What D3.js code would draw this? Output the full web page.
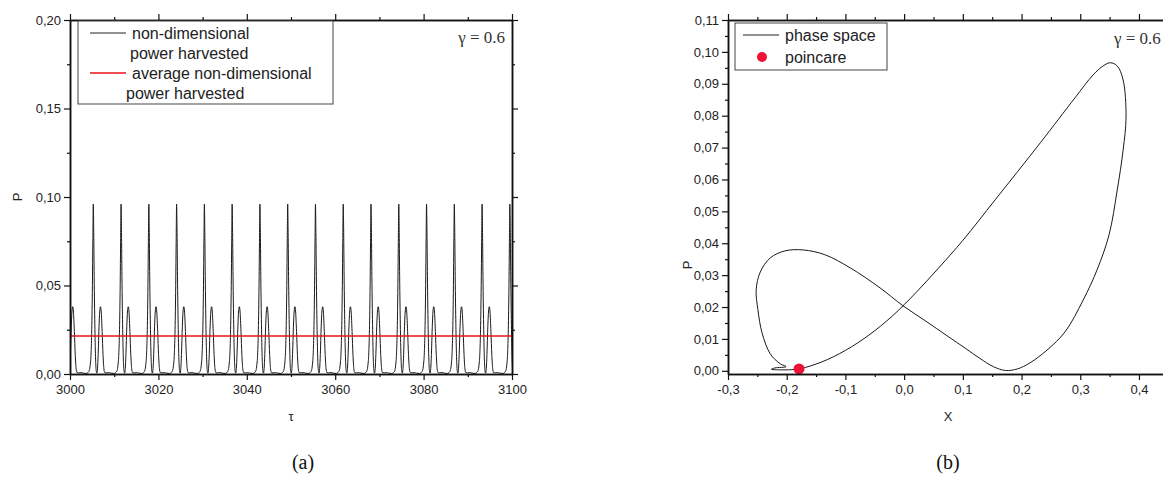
<!DOCTYPE html>
<html>
<head>
<meta charset="utf-8">
<script src="https://cdn.jsdelivr.net/npm/d3@7"></script>
<style>
  body { margin: 0; background: #fff; }
  svg { display: block; font-family: "Liberation Sans", Arial, sans-serif; }
</style>
</head>
<body>
<svg id="chart" width="1163" height="483"></svg>
<script>
// ---- panel (a): P vs tau, one period (offset from tall peak)
const cycleOffset = [-1.6, -1.2, -0.9, -0.7, -0.5, -0.35, -0.2, -0.1, 0, 0.1, 0.2, 0.35, 0.5, 0.65, 0.8,
  0.95, 1.1, 1.3, 1.45, 1.63, 1.8, 2.0, 2.2, 2.4, 2.6, 3.0, 3.5, 4.0];
const cycleP = [0.0003, 0.0008, 0.002, 0.005, 0.012, 0.025, 0.05, 0.075, 0.096, 0.08, 0.055, 0.028, 0.01, 0.002, 0.0005,
  0.003, 0.011, 0.027, 0.035, 0.038, 0.035, 0.024, 0.011, 0.003, 0.0008, 0.0006, 0.0008, 0.0005];
const period = 6.283;
const firstPeakTau = 3005.27;
const avgP = 0.0215;
const tauTicks = [3000, 3020, 3040, 3060, 3080, 3100];
const pTicksA = [0, 0.05, 0.1, 0.15, 0.2];

// ---- panel (b): phase space orbit (x, P), in order along the loop
const orbitX = [-0.179, -0.14, -0.10, -0.06, -0.02, 0.02, 0.06, 0.10, 0.155, 0.232, 0.291, 0.322, 0.339, 0.351, 0.363,
  0.373, 0.378, 0.373, 0.363, 0.349, 0.3285, 0.305, 0.274, 0.2434, 0.2144, 0.193, 0.173, 0.152, 0.129, 0.104, 0.073,
  0.036, -0.002, -0.041, -0.092, -0.135, -0.172, -0.203, -0.228, -0.245, -0.252, -0.249, -0.242, -0.228, -0.211,
  -0.201, -0.22, -0.226, -0.203];
const orbitP = [0.0006, 0.0028, 0.0064, 0.0112, 0.0172, 0.0245, 0.0325, 0.0409, 0.0536, 0.0715, 0.0856, 0.0928, 0.0956, 0.0966, 0.0956,
  0.0912, 0.0796, 0.0692, 0.0567, 0.0426, 0.0316, 0.0222, 0.0122, 0.0065, 0.0025, 0.0006, 0.0001, 0.0013, 0.0039, 0.0071, 0.011,
  0.0157, 0.0204, 0.026, 0.0323, 0.0364, 0.0379, 0.0376, 0.0354, 0.031, 0.0254, 0.0191, 0.0119, 0.0053, 0.0022,
  0.0013, 0.0009, 0.0005, 0.0003];
const poincare = [-0.179, 0.0006];
const xTicksB = [-0.3, -0.2, -0.1, 0, 0.1, 0.2, 0.3, 0.4];
const pTicksB = [0, 0.01, 0.02, 0.03, 0.04, 0.05, 0.06, 0.07, 0.08, 0.09, 0.10, 0.11];

const svg = d3.select('#chart');
const loc = d3.formatLocale({ decimal: ',', thousands: '.', grouping: [3], currency: ['', ''], minus: '-' });
const f2 = loc.format('.2f');
const f1 = loc.format('.1f');

function styleAxis(g) {
  g.selectAll('path.domain').attr('stroke', '#111').attr('stroke-width', 1.5);
  g.selectAll('.tick line').attr('stroke', '#111').attr('stroke-width', 1.2);
  g.selectAll('.tick text').attr('fill', '#222').style('font-size', '13px')
    .style('font-family', '"Liberation Sans", Arial, sans-serif');
}

function frame(x, y, xt, yt, xMinor, yMinor, opts) {
  const [x0, x1] = x.range();
  const [y0, y1] = y.range();
  const g = svg.append('g');
  g.append('g').attr('transform', `translate(0,${y0})`)
    .call(d3.axisBottom(x).tickValues(xMinor).tickSize(3).tickFormat('').tickSizeOuter(0)).call(styleAxis);
  g.append('g').attr('transform', `translate(0,${y0})`)
    .call(d3.axisBottom(x).tickValues(xt).tickSize(6).tickPadding(5).tickFormat(opts.xf).tickSizeOuter(0)).call(styleAxis);
  g.append('g').attr('transform', `translate(0,${y1})`)
    .call(d3.axisTop(x).tickValues(xMinor).tickSize(3).tickFormat('').tickSizeOuter(0)).call(styleAxis);
  g.append('g').attr('transform', `translate(0,${y1})`)
    .call(d3.axisTop(x).tickValues(xt).tickSize(6).tickFormat('').tickSizeOuter(0)).call(styleAxis);
  g.append('g').attr('transform', `translate(${x0},0)`)
    .call(d3.axisLeft(y).tickValues(yMinor).tickSize(3).tickFormat('').tickSizeOuter(0)).call(styleAxis);
  g.append('g').attr('transform', `translate(${x0},0)`)
    .call(d3.axisLeft(y).tickValues(yt).tickSize(6).tickPadding(3).tickFormat(f2).tickSizeOuter(0)).call(styleAxis);
  if (opts.right) {
    g.append('g').attr('transform', `translate(${x1},0)`)
      .call(d3.axisRight(y).tickValues(yMinor).tickSize(3).tickFormat('').tickSizeOuter(0)).call(styleAxis);
    g.append('g').attr('transform', `translate(${x1},0)`)
      .call(d3.axisRight(y).tickValues(yt).tickSize(6).tickFormat('').tickSizeOuter(0)).call(styleAxis);
  }
}

// ================= panel (a)
const xA = d3.scaleLinear().domain([3000, 3100]).range([70, 512]);
const yA = d3.scaleLinear().domain([0, 0.2]).range([374, 20]);

const series = [];
for (let k = -1; k <= 16; k++) {
  cycleOffset.forEach((s, i) => {
    const t = firstPeakTau + k * period + s;
    if (t >= 2998 && t <= 3102) series.push([t, cycleP[i]]);
  });
}

svg.append('clipPath').attr('id', 'clipA').append('rect')
  .attr('x', 70).attr('y', 20).attr('width', 442).attr('height', 354);

svg.append('path').datum(series)
  .attr('clip-path', 'url(#clipA)')
  .attr('fill', 'none').attr('stroke', '#1a1a1a').attr('stroke-width', 1)
  .attr('d', d3.line().x(d => xA(d[0])).y(d => yA(d[1])).curve(d3.curveMonotoneX));

svg.append('line')
  .attr('x1', xA(3000)).attr('x2', xA(3100)).attr('y1', yA(avgP)).attr('y2', yA(avgP))
  .attr('stroke', '#e8141c').attr('stroke-width', 1.5);

frame(xA, yA, tauTicks, pTicksA, d3.range(3010, 3100, 20), [0.025, 0.075, 0.125, 0.175], { xf: d3.format('d'), right: true });

// legend (a)
const legA = svg.append('g');
legA.append('rect').attr('x', 78).attr('y', 21).attr('width', 255).attr('height', 83)
  .attr('fill', '#fff').attr('stroke', '#444').attr('stroke-width', 1);
legA.append('line').attr('x1', 90).attr('x2', 126).attr('y1', 33).attr('y2', 33).attr('stroke', '#222');
legA.append('line').attr('x1', 90).attr('x2', 126).attr('y1', 73).attr('y2', 73).attr('stroke', '#e8141c').attr('stroke-width', 1.3);
[['non-dimensional', 132, 39], ['power harvested', 130, 59], ['average non-dimensional', 132, 79], ['power harvested', 126, 99]]
  .forEach(([t, x, y]) => legA.append('text').attr('x', x).attr('y', y).attr('fill', '#222')
    .style('font-size', '16px').text(t));

svg.append('text').attr('x', 505).attr('y', 43).attr('text-anchor', 'end')
  .style('font-family', '"Liberation Serif", "Times New Roman", serif').style('font-size', '17px')
  .attr('fill', '#333').text('γ = 0.6');

svg.append('text').attr('transform', 'translate(22,197) rotate(-90)').attr('text-anchor', 'middle')
  .style('font-size', '13px').attr('fill', '#222').text('P');
svg.append('text').attr('x', 291).attr('y', 421).attr('text-anchor', 'middle')
  .style('font-size', '13px').attr('fill', '#222').text('τ');

// ================= panel (b)
const xB = d3.scaleLinear().domain([-0.3, 0.45]).range([728, 728 + 0.75 * 587.1]);
const yB = d3.scaleLinear().domain([-0.001, 0.11]).range([374, 20]);

const orbit = orbitX.map((x, i) => [x, orbitP[i]]);
svg.append('path').datum(orbit)
  .attr('fill', 'none').attr('stroke', '#1a1a1a').attr('stroke-width', 1)
  .attr('d', d3.line().x(d => xB(d[0])).y(d => yB(d[1])).curve(d3.curveCatmullRomClosed.alpha(0.5)));

svg.append('circle').attr('cx', xB(poincare[0])).attr('cy', yB(poincare[1])).attr('r', 5.5)
  .attr('fill', '#ee1133');

frame(xB, yB, xTicksB, pTicksB, d3.range(-0.25, 0.45, 0.1), d3.range(0.005, 0.11, 0.01),
  { xf: f1, right: false });

// legend (b)
const legB = svg.append('g');
legB.append('rect').attr('x', 735).attr('y', 23).attr('width', 152).attr('height', 47)
  .attr('fill', '#fff').attr('stroke', '#444').attr('stroke-width', 1);
legB.append('line').attr('x1', 743).attr('x2', 779).attr('y1', 35).attr('y2', 35).attr('stroke', '#222');
legB.append('circle').attr('cx', 762).attr('cy', 57).attr('r', 5).attr('fill', '#ee1133');
legB.append('text').attr('x', 785).attr('y', 41).style('font-size', '16px').attr('fill', '#222').text('phase space');
legB.append('text').attr('x', 785).attr('y', 63).style('font-size', '16px').attr('fill', '#222').text('poincare');

svg.append('text').attr('x', 1114).attr('y', 44)
  .style('font-family', '"Liberation Serif", "Times New Roman", serif').style('font-size', '17px')
  .attr('fill', '#333').text('γ = 0.6');

svg.append('text').attr('transform', 'translate(692,265) rotate(-90)').attr('text-anchor', 'middle')
  .style('font-size', '13px').attr('fill', '#222').text('P');
svg.append('text').attr('x', 948).attr('y', 421).attr('text-anchor', 'middle')
  .style('font-size', '13px').attr('fill', '#222').text('X');

// captions
const cap = '"Liberation Serif", "Times New Roman", serif';
svg.append('text').attr('x', 303).attr('y', 469).attr('text-anchor', 'middle')
  .style('font-family', cap).style('font-size', '20px').attr('fill', '#111').text('(a)');
svg.append('text').attr('x', 948).attr('y', 469).attr('text-anchor', 'middle')
  .style('font-family', cap).style('font-size', '20px').attr('fill', '#111').text('(b)');
</script>
</body>
</html>
